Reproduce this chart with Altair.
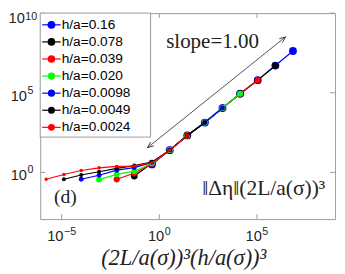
import altair as alt
import pandas as pd

# ---------------- data ----------------
series_labels = ["h/a=0.16", "h/a=0.078", "h/a=0.039", "h/a=0.020",
                 "h/a=0.0098", "h/a=0.0049", "h/a=0.0024"]
series_colors = ["#0000ff", "#000000", "#ff0000", "#00ff00",
                 "#0000ff", "#000000", "#ff0000"]
series_marker_sizes = [64, 49, 40, 36, 25, 16, 12]

x_016 = [0.42, 3.4, 27, 215, 1720, 1.37e4, 1.1e5, 8.8e5, 7.0e6]
y_016 = [3.16, 25, 209, 1350, 1.1e4, 8.7e4, 6.2e5, 5.1e6, 4.2e7]
x_0078 = [0.052, 0.42, 3.4, 27, 215, 1720, 1.37e4, 1.1e5, 8.8e5]
y_0078 = [0.59, 3.8, 25, 209, 1350, 1.1e4, 8.7e4, 6.2e5, 5.1e6]
x_0039 = [6.6e-3, 0.052, 0.42, 3.4, 27, 215, 1720, 1.37e4, 1.1e5]
y_0039 = [0.37, 0.89, 3.55, 25, 209, 1350, 1.1e4, 8.7e4, 6.2e5]
x_0020 = [8.2e-4, 6.6e-3, 0.052, 0.42, 3.4, 27, 215, 1720, 1.37e4]
y_0020 = [0.355, 0.76, 1.20, 3.8, 25, 209, 1350, 1.1e4, 8.7e4]
x_00098 = [1.0e-4, 8.2e-4, 6.6e-3, 0.052, 0.42, 3.4, 27, 215, 1720]
y_00098 = [0.37, 0.66, 1.38, 2.0, 4.2, 25, 209, 1350, 1.1e4]
x_00049 = [1.3e-5, 1.0e-4, 8.2e-4, 6.6e-3, 0.052, 0.42, 3.4, 27, 215]
y_00049 = [0.37, 0.69, 1.10, 1.78, 2.7, 4.5, 25, 209, 1350]
x_00024 = [1.6e-6, 1.3e-5, 1.0e-4, 8.2e-4, 6.6e-3, 0.052, 0.42, 3.4, 27]
y_00024 = [0.37, 0.74, 1.32, 1.95, 2.4, 2.5, 4.0, 25, 209]

series_x = [x_016, x_0078, x_0039, x_0020, x_00098, x_00049, x_00024]
series_y = [y_016, y_0078, y_0039, y_0020, y_00098, y_00049, y_00024]

x_tick_values = [1e-5, 1, 1e5]
x_tick_exps = ["\u22125", "0", "5"]
y_tick_values = [1, 1e5, 1e10]
y_tick_exps = ["0", "5", "10"]

x_title = "(2L/a(\u03c3))\u00b3(h/a(\u03c3))\u00b3"
annot_text = "\u2016\u0394\u03b7\u2016(2L/a(\u03c3))\u00b3"
panel_text = "(d)"
slope_text = "slope=1.00"
arrow_x = [0.25, 2.9e6]
arrow_y = [36, 3.2e8]

# ---------------- styling ----------------
W, H = 302, 211
FRAME = "#9a9a9a"
LAB = "#262626"
SANS = "Liberation Sans"
SERIF = "Liberation Serif"
FS, FSE = 15, 11

xs = alt.Scale(type="log", domain=[10 ** -6.1, 1e9], nice=False)
ys = alt.Scale(type="log", domain=[10 ** -2.93, 1e10], nice=False)
one = pd.DataFrame({"k": [0]})

layers = []

# series (drawn in order, later ones on top)
for xv, yv, col, sz in zip(series_x, series_y, series_colors, series_marker_sizes):
    df = pd.DataFrame({"x": xv, "y": yv})
    base = alt.Chart(df).encode(
        x=alt.X("x:Q", scale=xs, axis=None),
        y=alt.Y("y:Q", scale=ys, axis=None),
    )
    layers.append(base.mark_line(color=col, strokeWidth=1.2))
    layers.append(base.mark_circle(color=col, size=sz, opacity=1))

# ticks (inward, on all four sides)
xt = pd.DataFrame({"v": x_tick_values})
yt = pd.DataFrame({"v": y_tick_values})
xenc = alt.X("v:Q", scale=xs, axis=None)
yenc = alt.Y("v:Q", scale=ys, axis=None)
layers.append(alt.Chart(xt).mark_rule(color=FRAME, strokeWidth=1).encode(x=xenc, y=alt.value(H), y2=alt.value(H - 5)))
layers.append(alt.Chart(xt).mark_rule(color=FRAME, strokeWidth=1).encode(x=xenc, y=alt.value(0), y2=alt.value(5)))
layers.append(alt.Chart(yt).mark_rule(color=FRAME, strokeWidth=1).encode(y=yenc, x=alt.value(0), x2=alt.value(5)))
layers.append(alt.Chart(yt).mark_rule(color=FRAME, strokeWidth=1).encode(y=yenc, x=alt.value(W), x2=alt.value(W - 5)))


def wtxt(s, fs):
    return sum(0.584 if c == "\u2212" else 0.556 for c in s) * fs


# x tick labels: 10 with raised exponent, centred on tick
for v, e in zip(x_tick_values, x_tick_exps):
    d = pd.DataFrame({"v": [v]})
    w10 = wtxt("10", FS)
    we = wtxt(e, FSE)
    tot = w10 + we + 0.5
    layers.append(alt.Chart(d).mark_text(text="10", align="left", baseline="alphabetic", font=SANS,
                                         fontSize=FS, color=LAB, dx=-tot / 2)
                  .encode(x=alt.X("v:Q", scale=xs, axis=None), y=alt.value(H + 22)))
    layers.append(alt.Chart(d).mark_text(text=e, align="left", baseline="alphabetic", font=SANS,
                                         fontSize=FSE, color=LAB, dx=-tot / 2 + w10 + 0.5)
                  .encode(x=alt.X("v:Q", scale=xs, axis=None), y=alt.value(H + 16)))

# y tick labels (the top one nudged so it stays on the page)
for v, e in zip(y_tick_values, y_tick_exps):
    d = pd.DataFrame({"v": [v]})
    we = wtxt(e, FSE)
    top = v == y_tick_values[-1]
    right = -3 if top else -7
    layers.append(alt.Chart(d).mark_text(text="10", align="right", baseline="alphabetic", font=SANS,
                                         fontSize=FS, color=LAB, dy=10 if top else 8)
                  .encode(y=alt.Y("v:Q", scale=ys, axis=None), x=alt.value(right - we - 0.5)))
    layers.append(alt.Chart(d).mark_text(text=e, align="right", baseline="alphabetic", font=SANS,
                                         fontSize=FSE, color=LAB, dy=7 if top else 1)
                  .encode(y=alt.Y("v:Q", scale=ys, axis=None), x=alt.value(right)))

# slope arrow (double headed)
arr = pd.DataFrame({"x": [arrow_x[0]], "y": [arrow_y[0]], "x2": [arrow_x[1]], "y2": [arrow_y[1]]})
layers.append(alt.Chart(arr).mark_rule(color="#222222", strokeWidth=0.8).encode(
    x=alt.X("x:Q", scale=xs, axis=None), y=alt.Y("y:Q", scale=ys, axis=None), x2="x2:Q", y2="y2:Q"))
head = "M-0.42,1L0,0L0.42,1"
layers.append(alt.Chart(arr).mark_point(shape=head, filled=False, stroke="#222222", strokeWidth=0.8,
                                        size=150, angle=51.3, opacity=1).encode(
    x=alt.X("x2:Q", scale=xs, axis=None), y=alt.Y("y2:Q", scale=ys, axis=None)))
layers.append(alt.Chart(arr).mark_point(shape=head, filled=False, stroke="#222222", strokeWidth=0.8,
                                        size=150, angle=231.3, opacity=1).encode(
    x=alt.X("x:Q", scale=xs, axis=None), y=alt.Y("y:Q", scale=ys, axis=None)))

# texts
layers.append(alt.Chart(one).mark_text(text=slope_text, align="left", baseline="alphabetic", font=SERIF,
                                       fontSize=21.5, color="#222222")
              .encode(x=alt.value(129), y=alt.value(36)))
layers.append(alt.Chart(one).mark_text(text=panel_text, align="left", baseline="alphabetic", font=SERIF,
                                       fontSize=20, color="#222222")
              .encode(x=alt.value(14), y=alt.value(194)))
layers.append(alt.Chart(one).mark_text(text=annot_text, align="right", baseline="alphabetic", font=SERIF,
                                       fontSize=22, color="#222222")
              .encode(x=alt.value(292), y=alt.value(186)))
layers.append(alt.Chart(one).mark_text(text=x_title, align="center", baseline="alphabetic", font=SERIF,
                                       fontSize=23, fontStyle="italic", color="#222222")
              .encode(x=alt.value(147), y=alt.value(258)))

main = alt.layer(*layers)

# legend box
leg = pd.DataFrame({"label": series_labels})
ly = alt.Y("label:N", scale=alt.Scale(type="point", domain=series_labels, range=[12, 117], padding=0), axis=None)
lc = alt.Color("label:N", scale=alt.Scale(domain=series_labels, range=series_colors), legend=None)
lsz = alt.Size("label:O", scale=alt.Scale(domain=series_labels, range=series_marker_sizes), legend=None)
frame = alt.Chart(one).mark_rect(fill="white", stroke=FRAME, strokeWidth=1).encode(
    x=alt.value(0), x2=alt.value(113), y=alt.value(0), y2=alt.value(127))
leg_lines = alt.Chart(leg).mark_rule(strokeWidth=1.2).encode(x=alt.value(2), x2=alt.value(21), y=ly, color=lc)
leg_pts = alt.Chart(leg).mark_circle(opacity=1).encode(x=alt.value(11.5), y=ly, color=lc, size=lsz)
leg_txt = alt.Chart(leg).mark_text(align="left", baseline="middle", font=SANS, fontSize=14, color="#000000").encode(
    x=alt.value(22), y=ly, text="label:N")
legend = alt.layer(frame, leg_lines, leg_pts, leg_txt)

chart = alt.layer(main, legend).resolve_scale(
    x="independent", y="independent", color="independent", size="independent"
).properties(
    width=W, height=H,
    padding={"left": 33, "top": 2, "right": 2, "bottom": 53},
    autosize=alt.AutoSizeParams(type="none"),
).configure_view(stroke=FRAME, strokeWidth=1)

chart.save("out.html", embed_options={"renderer": "svg", "actions": False})
